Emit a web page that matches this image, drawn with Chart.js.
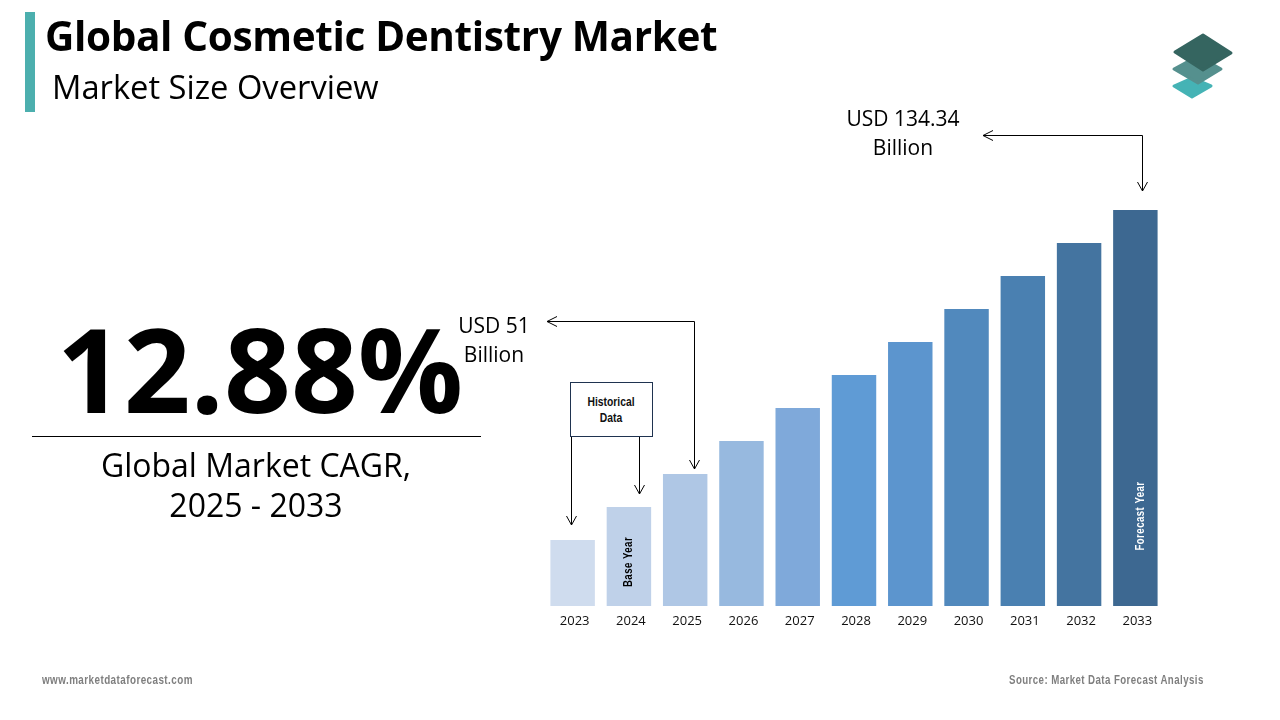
<!DOCTYPE html>
<html><head><meta charset="utf-8">
<script src="https://cdn.jsdelivr.net/npm/chart.js@4"></script>
<style>
html,body{margin:0;padding:0;background:#fff;width:1280px;height:720px;overflow:hidden}
#wrap{position:relative;width:1280px;height:720px}
canvas{position:absolute;left:0;top:0}
.t{position:absolute;white-space:nowrap;color:#000;font-family:"Open Sans",sans-serif;line-height:1}
.c{text-align:center;transform:translateX(-50%)}
.nar{font-family:"Liberation Sans",sans-serif;font-weight:700}
</style></head><body>
<div id="wrap">
<canvas id="c" width="1280" height="720"></canvas>
<div style="position:absolute;left:25px;top:12px;width:10px;height:100px;background:#4CAFAE"></div>
<div class="t" style="left:45px;top:16px;font-size:40.5px;font-weight:700;letter-spacing:-.35px">Global Cosmetic Dentistry Market</div>
<div class="t" style="left:52px;top:71px;font-size:32.7px">Market Size Overview</div>
<div class="t c" style="left:260px;top:309px;font-size:117px;font-weight:700">12.88%</div>
<div style="position:absolute;left:32px;top:436px;width:449px;height:1px;background:#000"></div>
<div class="t c" style="left:256px;top:445px;font-size:32px;line-height:40px;text-align:center">Global Market CAGR,<br>2025 - 2033</div>
<div class="t c" style="left:903px;top:104px;font-size:21px;line-height:29px;text-align:center">USD 134.34<br>Billion</div>
<div class="t c" style="left:494px;top:311px;font-size:21px;line-height:29px;text-align:center">USD 51<br>Billion</div>
<div style="position:absolute;left:570px;top:382px;width:83px;height:55px;box-sizing:border-box;border:1px solid #1F3350;background:#fff"></div>
<div class="t nar c" style="left:611px;top:394px;font-size:12px;line-height:16px;color:#111;text-align:center;transform:translateX(-50%) scaleX(.86)">Historical<br>Data</div>
<div class="t nar" style="left:42px;top:674px;font-size:12.5px;color:#7F7F7F;letter-spacing:.55px;transform-origin:0 0;transform:scaleX(.79)">www.marketdataforecast.com</div>
<div class="t nar" style="left:1009px;top:674px;font-size:12.5px;color:#7F7F7F;letter-spacing:.55px;transform-origin:0 0;transform:scaleX(.775)">Source: Market Data Forecast Analysis</div>
<svg style="position:absolute;left:0;top:0" width="1280" height="720">
<g stroke-linejoin="round" stroke-width="3">
<polygon points="1192,78 1211,86 1192,97 1174,86" fill="#45B3B5" stroke="#45B3B5"/>
<polygon points="1198,56 1221,69 1198,83 1174,69" fill="#55908E" stroke="#55908E"/>
<polygon points="1203,35 1231,53 1203,70 1175,52" fill="#356560" stroke="#356560"/>
</g></svg>
</div>
<script>
const categories=["2023","2024","2025","2026","2027","2028","2029","2030","2031","2032","2033"];
const barValues=[2,3,4,5,6,7,8,9,10,11,12];
const barColors=["#CFDCEE","#BFD1E9","#AFC7E5","#97B9DF","#7FA9DA","#5F9BD5","#5C95CE","#5189BD","#4A80B1","#4474A0","#3D6891"];
const insideLabels=[{i:1,text:"Base Year",dx:0,dy:-44,color:"#000"},{i:10,text:"Forecast Year",dx:5,dy:-90,color:"#fff"}];

const overlay={id:"overlay",afterDatasetsDraw(ch){
  const x=ch.scales.x,y=ch.scales.y,c=ch.ctx;
  const px=i=>x.getPixelForValue(i), py=i=>y.getPixelForValue(barValues[i]), base=y.getPixelForValue(0);
  const head=(ax,ay)=>{c.beginPath();c.moveTo(ax-5,ay-9);c.lineTo(ax,ay);c.lineTo(ax+5,ay-9);c.stroke();};
  const left=(ax,ay)=>{c.beginPath();c.moveTo(ax+10,ay-5);c.lineTo(ax,ay);c.lineTo(ax+10,ay+5);c.stroke();};
  c.save();c.strokeStyle="#000";c.lineWidth=1;
  const seg=(pts)=>{c.beginPath();pts.forEach((p,k)=>k?c.lineTo(p[0],p[1]):c.moveTo(p[0],p[1]));c.stroke();};
  let ax=Math.round(px(0)-2)+.5, ay=py(0)-15; seg([[ax,436],[ax,ay]]);head(ax,ay);
  ax=Math.round(px(1)+10)+.5; ay=py(1)-13; seg([[ax,436],[ax,ay]]);head(ax,ay);
  ax=Math.round(px(2)+9)+.5; ay=py(2)-5; seg([[547,321.5],[ax,321.5],[ax,ay]]);head(ax,ay);left(547,321.5);
  ax=Math.round(px(10)+7)+.5; ay=py(10)-19; seg([[983,135.5],[ax,135.5],[ax,ay]]);head(ax,ay);left(983,135.5);
  c.textAlign="center";c.textBaseline="middle";c.font='700 12.5px "Liberation Sans",sans-serif';
  insideLabels.forEach(l=>{c.save();c.translate(px(l.i)+l.dx,base+l.dy);c.rotate(-Math.PI/2);c.scale(.77,1);c.fillStyle=l.color;c.letterSpacing="0.6px";c.fillText(l.text,0,0);c.restore();});
  c.restore();
}};

new Chart(document.getElementById("c"),{
  type:"bar",
  data:{labels:categories,datasets:[{data:barValues,backgroundColor:barColors,borderWidth:0,barPercentage:.79,categoryPercentage:1}]},
  options:{responsive:false,animation:false,devicePixelRatio:1,
    layout:{padding:{left:544.5,right:116.5,top:210,bottom:0}},
    plugins:{legend:{display:false},title:{display:false},tooltip:{enabled:false}},
    scales:{
      x:{grid:{display:false,drawTicks:false},border:{display:false},afterFit(s){s.height=114;},
         ticks:{color:"#111",padding:7,labelOffset:2,maxRotation:0,autoSkip:false,font:{family:'"Open Sans"',size:13}}},
      y:{display:false,min:0,max:12}
    }},
  plugins:[overlay]
});
</script>
</body></html>
